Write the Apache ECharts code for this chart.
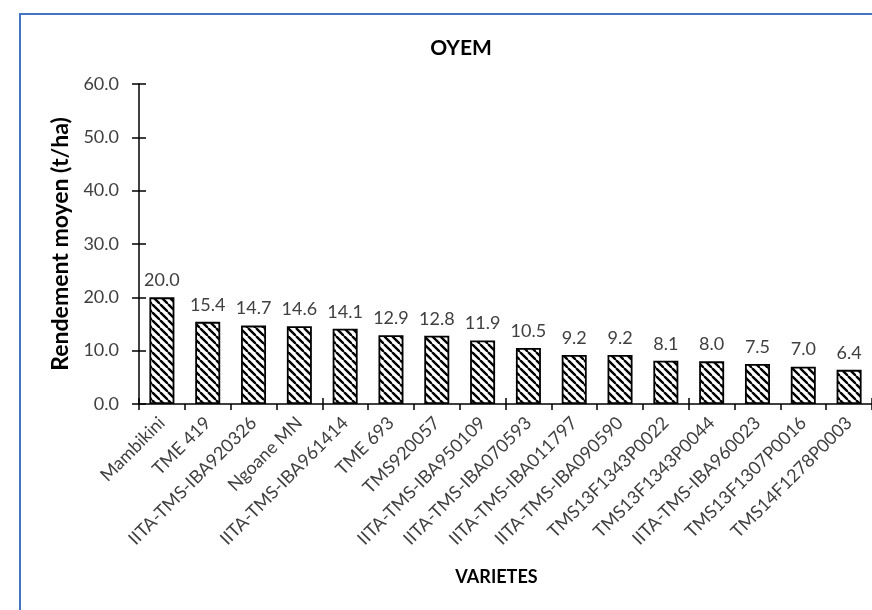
<!DOCTYPE html>
<html>
<head>
<meta charset="utf-8">
<script src="https://cdn.jsdelivr.net/npm/echarts@6/dist/echarts.min.js"></script>
<style>
html,body{margin:0;padding:0;background:#fff;}
#chart{width:872px;height:610px;}
</style>
</head>
<body>
<div id="chart"></div>
<script>
const categories = ["Mambikini","TME 419","IITA-TMS-IBA920326","Ngoane MN","IITA-TMS-IBA961414","TME 693","TMS920057","IITA-TMS-IBA950109","IITA-TMS-IBA070593","IITA-TMS-IBA011797","IITA-TMS-IBA090590","TMS13F1343P0022","TMS13F1343P0044","IITA-TMS-IBA960023","TMS13F1307P0016","TMS14F1278P0003"];
const values = [20.0,15.4,14.7,14.6,14.1,12.9,12.8,11.9,10.5,9.2,9.2,8.1,8.0,7.5,7.0,6.4];
const yTicks = [0,10,20,30,40,50,60];

function hatch(){
  const s = 8;
  const c = document.createElement('canvas');
  c.width = s; c.height = s;
  const g = c.getContext('2d');
  g.fillStyle = '#fff'; g.fillRect(0,0,s,s);
  g.strokeStyle = '#000'; g.lineWidth = 2.4;
  for (const k of [-s,0,s]) { g.beginPath(); g.moveTo(k,0); g.lineTo(k+s,s); g.stroke(); }
  return c;
}

const FONT = 'Lato';
const chart = echarts.init(document.getElementById('chart'));
chart.setOption({
  animation:false,
  backgroundColor:'#fff',
  textStyle:{fontFamily:FONT},
  graphic:[{type:'rect',shape:{x:20,y:14,width:1000,height:1000},style:{fill:null,stroke:'#4472C4',lineWidth:2},silent:true}],
  title:{text:'OYEM',left:456,top:33,textAlign:'center',textStyle:{fontFamily:FONT,fontWeight:'bold',fontSize:21,color:'#000'}},
  grid:{left:139,right:-1,top:84,bottom:206,containLabel:false},
  xAxis:[{
    type:'category',data:categories,
    name:'VARIETES',nameLocation:'middle',nameGap:164,
    nameTextStyle:{fontFamily:FONT,fontWeight:'bold',fontSize:18,color:'#000',padding:[0,18,0,0]},
    axisLine:{lineStyle:{color:'#000',width:1.5}},
    axisTick:{show:true,length:6,alignWithLabel:false,lineStyle:{color:'#000',width:1.5}},
    axisLabel:{interval:0,rotate:45,margin:16,fontFamily:FONT,fontSize:18,color:'#404040'}
  },{
    type:'category',data:categories,position:'bottom',
    axisLine:{show:false},axisLabel:{show:false},
    axisTick:{show:true,inside:true,length:6,lineStyle:{color:'#000',width:1.5}}
  }],
  yAxis:[{
    type:'value',min:yTicks[0],max:yTicks[yTicks.length-1],interval:10,
    name:'Rendement moyen (t/ha)',nameLocation:'middle',nameGap:63,
    nameTextStyle:{fontFamily:FONT,fontWeight:'bold',fontSize:23,color:'#000'},
    axisLine:{show:true,lineStyle:{color:'#000',width:1.5}},
    axisTick:{show:true,length:7,lineStyle:{color:'#000',width:1.5}},
    splitLine:{show:false},
    axisLabel:{margin:20,fontFamily:FONT,fontSize:18,color:'#404040',formatter:v=>v.toFixed(1)}
  },{
    type:'value',min:yTicks[0],max:yTicks[yTicks.length-1],interval:10,position:'left',
    axisLine:{show:false},axisLabel:{show:false},splitLine:{show:false},
    axisTick:{show:true,inside:true,length:7,lineStyle:{color:'#000',width:1.5}}
  }],
  series:[{
    type:'bar',data:values,xAxisIndex:0,yAxisIndex:0,barWidth:25,
    itemStyle:{color:{image:hatch(),repeat:'repeat'},borderColor:'#000',borderWidth:1.8},
    label:{show:true,position:'top',distance:8,fontFamily:FONT,fontSize:18,color:'#404040',formatter:p=>p.value.toFixed(1)}
  }]
});
</script>
</body>
</html>
